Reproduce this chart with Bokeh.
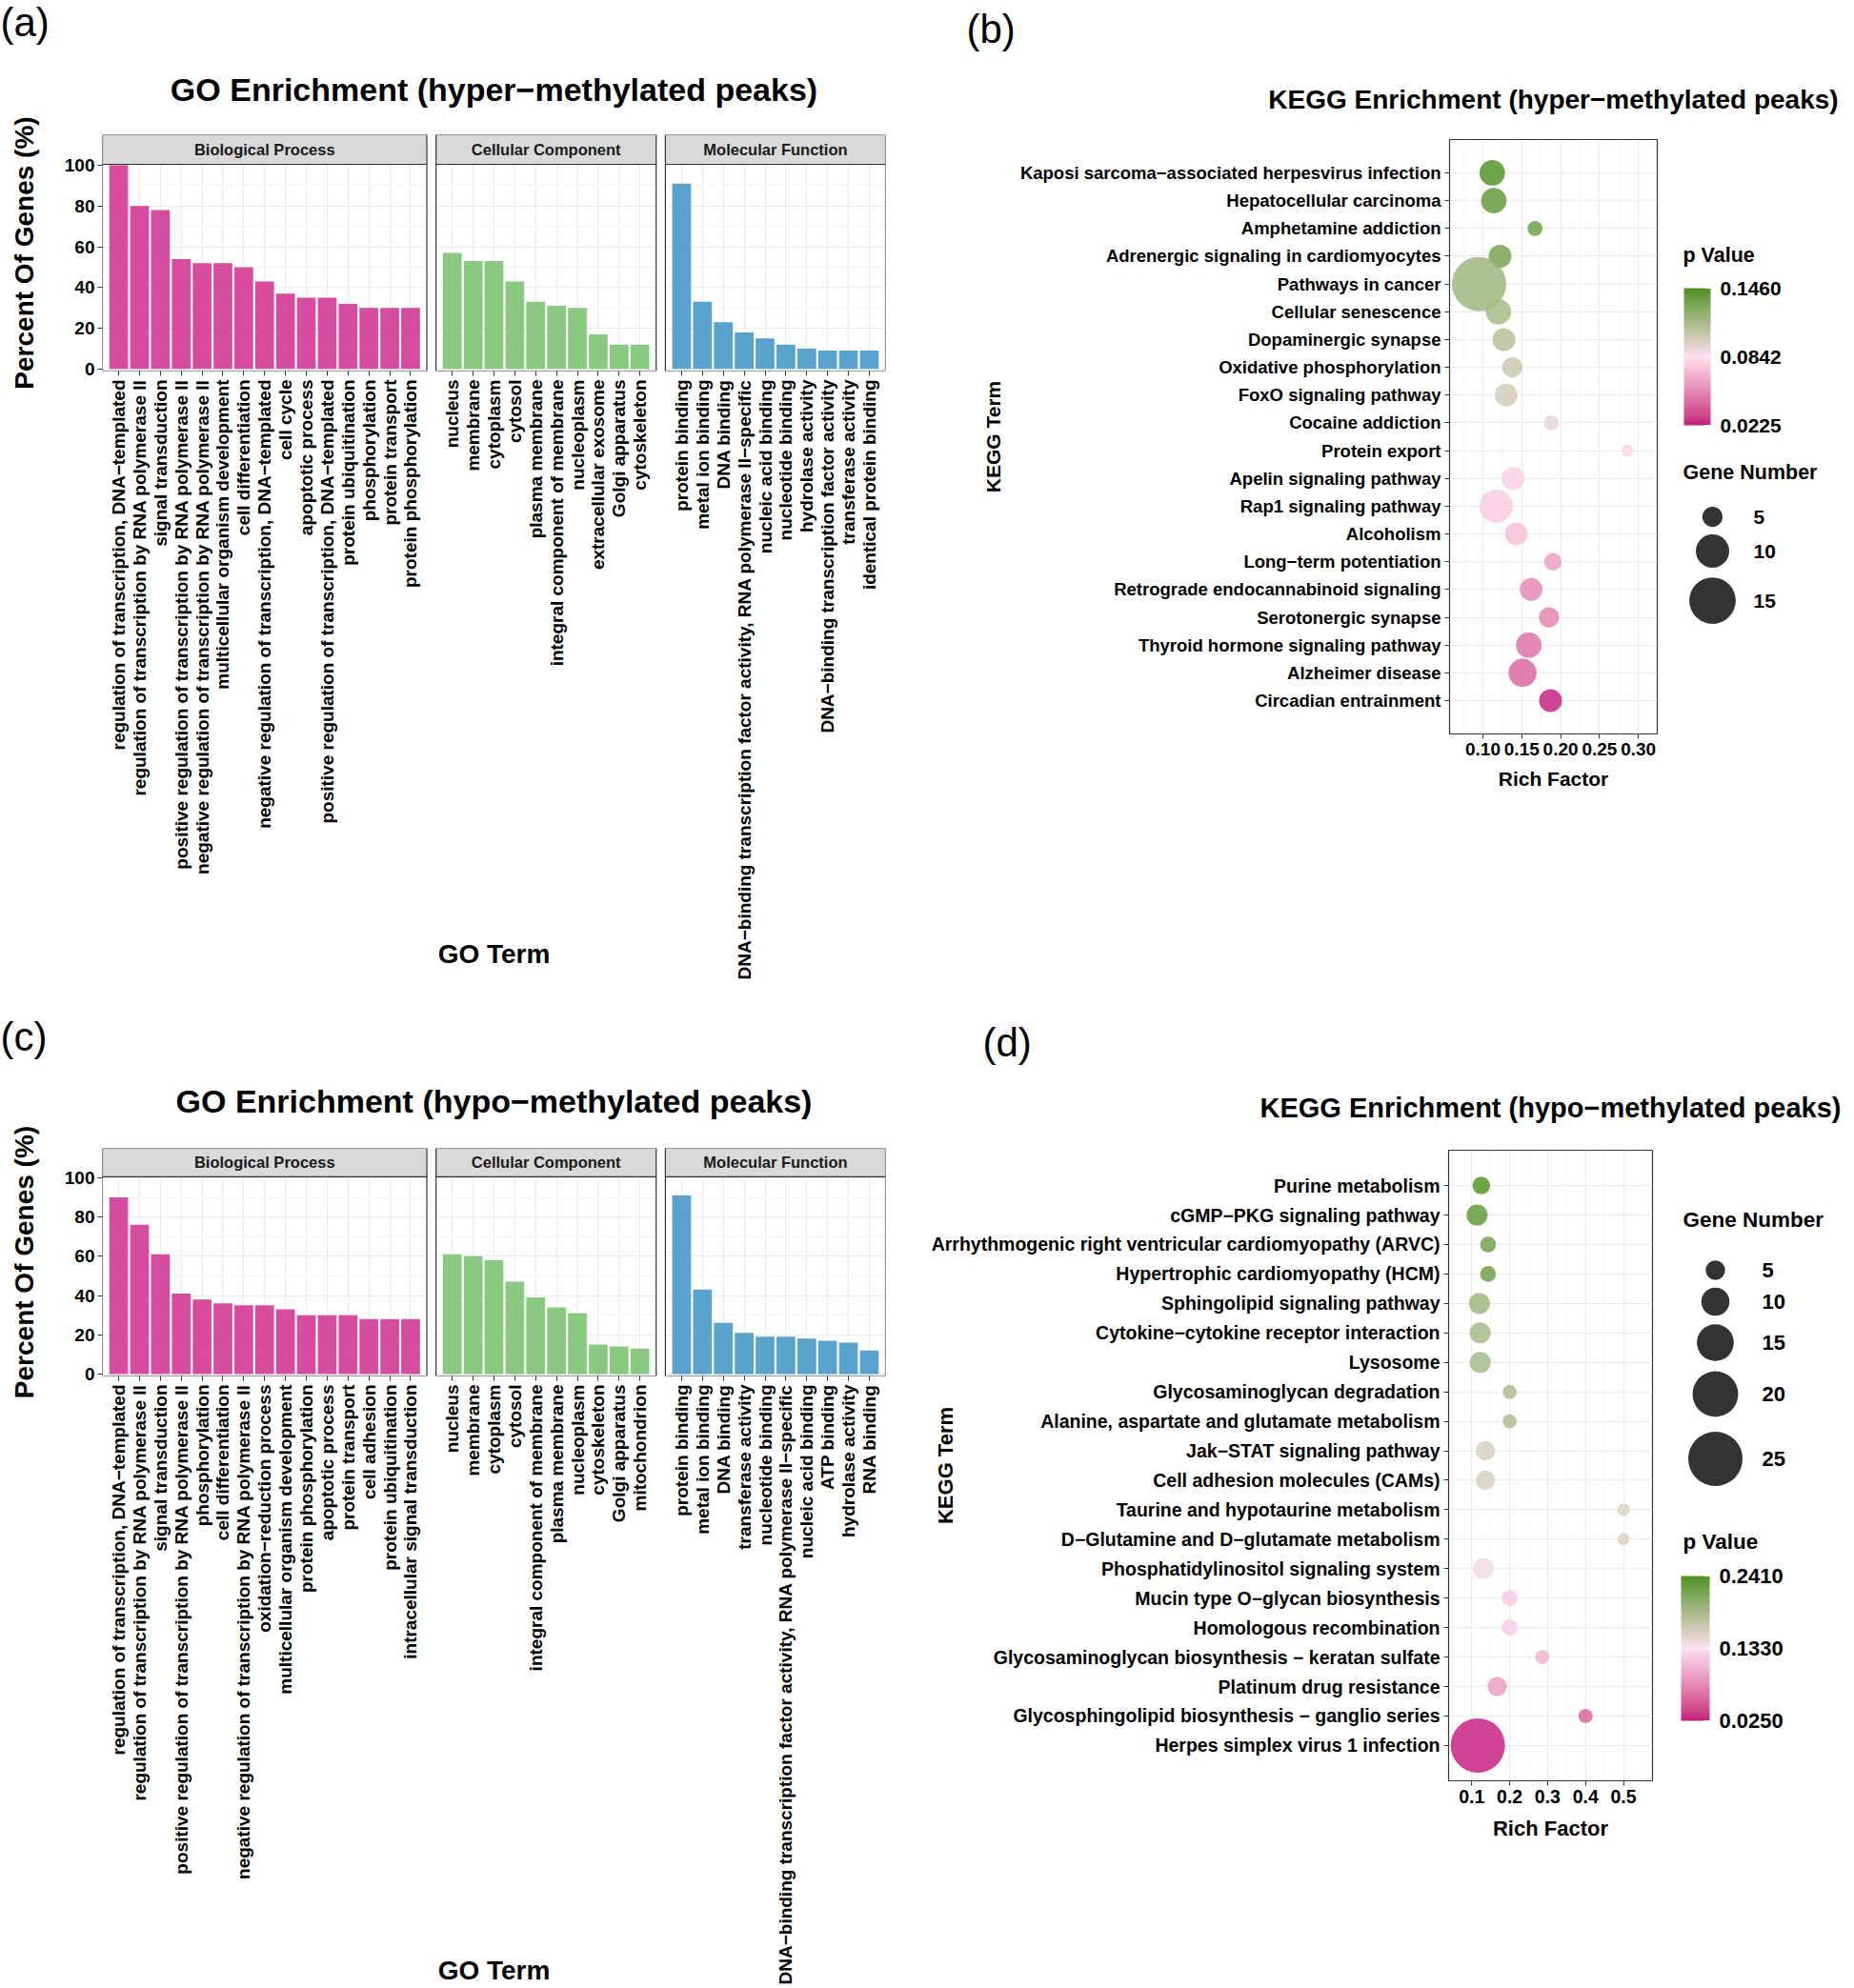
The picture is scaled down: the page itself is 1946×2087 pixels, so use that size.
import math
from bokeh.plotting import figure
from bokeh.models import (Range1d, FixedTicker, BoxAnnotation, Label, Title, ColorBar,
                          LinearColorMapper, PrintfTickFormatter, ColumnDataSource)
from bokeh.layouts import row, column
from bokeh.core.properties import value
from bokeh.embed import file_html
from bokeh.resources import INLINE

FONT = "Liberation Sans"

# ---------------- GO enrichment, hyper-methylated peaks ----------------
hyper_bp_terms = [
    "regulation of transcription, DNA−templated",
    "regulation of transcription by RNA polymerase II",
    "signal transduction",
    "positive regulation of transcription by RNA polymerase II",
    "negative regulation of transcription by RNA polymerase II",
    "multicellular organism development",
    "cell differentiation",
    "negative regulation of transcription, DNA−templated",
    "cell cycle",
    "apoptotic process",
    "positive regulation of transcription, DNA−templated",
    "protein ubiquitination",
    "phosphorylation",
    "protein transport",
    "protein phosphorylation",
]
hyper_bp_pct = [100, 80, 78, 54, 52, 52, 50, 43, 37, 35, 35, 32, 30, 30, 30]
hyper_cc_terms = [
    "nucleus", "membrane", "cytoplasm", "cytosol", "plasma membrane",
    "integral component of membrane", "nucleoplasm", "extracellular exosome",
    "Golgi apparatus", "cytoskeleton",
]
hyper_cc_pct = [57, 53, 53, 43, 33, 31, 30, 17, 12, 12]
hyper_mf_terms = [
    "protein binding", "metal ion binding", "DNA binding",
    "DNA−binding transcription factor activity, RNA polymerase II−specific",
    "nucleic acid binding", "nucleotide binding", "hydrolase activity",
    "DNA−binding transcription factor activity", "transferase activity",
    "identical protein binding",
]
hyper_mf_pct = [91, 33, 23, 18, 15, 12, 10, 9, 9, 9]

# ---------------- GO enrichment, hypo-methylated peaks ----------------
hypo_bp_terms = [
    "regulation of transcription, DNA−templated",
    "regulation of transcription by RNA polymerase II",
    "signal transduction",
    "positive regulation of transcription by RNA polymerase II",
    "phosphorylation",
    "cell differentiation",
    "negative regulation of transcription by RNA polymerase II",
    "oxidation−reduction process",
    "multicellular organism development",
    "protein phosphorylation",
    "apoptotic process",
    "protein transport",
    "cell adhesion",
    "protein ubiquitination",
    "intracellular signal transduction",
]
hypo_bp_pct = [90, 76, 61, 41, 38, 36, 35, 35, 33, 30, 30, 30, 28, 28, 28]
hypo_cc_terms = [
    "nucleus", "membrane", "cytoplasm", "cytosol", "integral component of membrane",
    "plasma membrane", "nucleoplasm", "cytoskeleton", "Golgi apparatus", "mitochondrion",
]
hypo_cc_pct = [61, 60, 58, 47, 39, 34, 31, 15, 14, 13]
hypo_mf_terms = [
    "protein binding", "metal ion binding", "DNA binding", "transferase activity",
    "nucleotide binding",
    "DNA−binding transcription factor activity, RNA polymerase II−specific",
    "nucleic acid binding", "ATP binding", "hydrolase activity", "RNA binding",
]
hypo_mf_pct = [91, 43, 26, 21, 19, 19, 18, 17, 16, 12]

go_groups = ["Biological Process", "Cellular Component", "Molecular Function"]
go_colors = ["#D4439A", "#83C67B", "#519DCB"]

# ---------------- KEGG enrichment, hyper-methylated peaks ----------------
kegg_hyper_terms = [
    "Kaposi sarcoma−associated herpesvirus infection", "Hepatocellular carcinoma",
    "Amphetamine addiction", "Adrenergic signaling in cardiomyocytes", "Pathways in cancer",
    "Cellular senescence", "Dopaminergic synapse", "Oxidative phosphorylation",
    "FoxO signaling pathway", "Cocaine addiction", "Protein export",
    "Apelin signaling pathway", "Rap1 signaling pathway", "Alcoholism",
    "Long−term potentiation", "Retrograde endocannabinoid signaling",
    "Serotonergic synapse", "Thyroid hormone signaling pathway", "Alzheimer disease",
    "Circadian entrainment",
]
kegg_hyper_rich = [0.112, 0.114, 0.167, 0.122, 0.095, 0.120, 0.127, 0.138, 0.130, 0.188,
                   0.286, 0.139, 0.117, 0.143, 0.190, 0.162, 0.185, 0.159, 0.151, 0.187]
kegg_hyper_genes = [7, 7, 3, 6, 18, 7, 6, 5, 6, 3, 2, 6, 10, 6, 4, 6, 5, 7, 8, 6]
kegg_hyper_p = [0.146, 0.141, 0.136, 0.134, 0.119, 0.116, 0.111, 0.104, 0.101, 0.094,
                0.080, 0.078, 0.077, 0.072, 0.060, 0.052, 0.050, 0.044, 0.040, 0.0225]
kegg_hyper_p_ticks = [0.0225, 0.0842, 0.1460]
kegg_hyper_size_legend = [5, 10, 15]

# ---------------- KEGG enrichment, hypo-methylated peaks ----------------
kegg_hypo_terms = [
    "Purine metabolism", "cGMP−PKG signaling pathway",
    "Arrhythmogenic right ventricular cardiomyopathy (ARVC)",
    "Hypertrophic cardiomyopathy (HCM)", "Sphingolipid signaling pathway",
    "Cytokine−cytokine receptor interaction", "Lysosome", "Glycosaminoglycan degradation",
    "Alanine, aspartate and glutamate metabolism", "Jak−STAT signaling pathway",
    "Cell adhesion molecules (CAMs)", "Taurine and hypotaurine metabolism",
    "D−Glutamine and D−glutamate metabolism", "Phosphatidylinositol signaling system",
    "Mucin type O−glycan biosynthesis", "Homologous recombination",
    "Glycosaminoglycan biosynthesis − keratan sulfate", "Platinum drug resistance",
    "Glycosphingolipid biosynthesis − ganglio series", "Herpes simplex virus 1 infection",
]
kegg_hypo_rich = [0.125, 0.114, 0.143, 0.143, 0.120, 0.122, 0.122, 0.200, 0.200, 0.136,
                  0.136, 0.500, 0.500, 0.131, 0.200, 0.200, 0.286, 0.167, 0.400, 0.116]
kegg_hypo_genes = [4, 6, 3, 3, 6, 6, 6, 2, 2, 5, 5, 1, 1, 6, 3, 3, 2, 5, 2, 25]
kegg_hypo_p = [0.241, 0.232, 0.224, 0.224, 0.193, 0.191, 0.191, 0.185, 0.185, 0.159,
               0.159, 0.155, 0.155, 0.140, 0.118, 0.118, 0.103, 0.090, 0.055, 0.025]
kegg_hypo_p_ticks = [0.0250, 0.1330, 0.2410]
kegg_hypo_size_legend = [5, 10, 15, 20, 25]

GRADIENT_STOPS = ["#C51B7D", "#FDE0EF", "#4D9221"]


# ---------------- colour helpers (Lab interpolation like ggplot) ----------------
def _lin(c):
    c = c / 255.0
    return c / 12.92 if c <= 0.04045 else ((c + 0.055) / 1.055) ** 2.4


def _delin(c):
    v = 12.92 * c if c <= 0.0031308 else 1.055 * (max(c, 0) ** (1 / 2.4)) - 0.055
    return int(round(max(0.0, min(1.0, v)) * 255))


WHITE = (0.95047, 1.0, 1.08883)


def _f(t):
    d = 6 / 29
    return t ** (1 / 3) if t > d ** 3 else t / (3 * d * d) + 4 / 29


def _finv(t):
    d = 6 / 29
    return t ** 3 if t > d else 3 * d * d * (t - 4 / 29)


def hex_to_lab(h):
    r, g, b = (_lin(int(h[i:i + 2], 16)) for i in (1, 3, 5))
    x = 0.4124 * r + 0.3576 * g + 0.1805 * b
    y = 0.2126 * r + 0.7152 * g + 0.0722 * b
    z = 0.0193 * r + 0.1192 * g + 0.9505 * b
    fx, fy, fz = _f(x / WHITE[0]), _f(y / WHITE[1]), _f(z / WHITE[2])
    return (116 * fy - 16, 500 * (fx - fy), 200 * (fy - fz))


def lab_to_hex(L, a, b):
    fy = (L + 16) / 116
    fx = fy + a / 500
    fz = fy - b / 200
    x, y, z = WHITE[0] * _finv(fx), WHITE[1] * _finv(fy), WHITE[2] * _finv(fz)
    r = 3.2406 * x - 1.5372 * y - 0.4986 * z
    g = -0.9689 * x + 1.8758 * y + 0.0415 * z
    bb = 0.0557 * x - 0.2040 * y + 1.0570 * z
    return "#%02X%02X%02X" % (_delin(r), _delin(g), _delin(bb))


def make_palette(stops, n=256):
    labs = [hex_to_lab(s) for s in stops]
    out = []
    for i in range(n):
        t = i / (n - 1) * (len(stops) - 1)
        k = min(int(t), len(stops) - 2)
        u = t - k
        c = [labs[k][j] + (labs[k + 1][j] - labs[k][j]) * u for j in range(3)]
        out.append(lab_to_hex(*c))
    return out


PALETTE = make_palette(GRADIENT_STOPS)


def size_scale(n, nmin, nmax, dmin=13.0, dmax=57.0):
    return dmin + (dmax - dmin) * (n - nmin) / (nmax - nmin)


# ---------------- GO faceted bar panel ----------------
def go_panel(title_text, letter, groups, width, height, left, top, frame_w, frame_h,
             title_standoff, letter_standoff, xlab_standoff):
    PAD = 0.78
    STEP = 2
    facets = []
    start = 1
    for name, terms, vals, color in groups:
        xs = list(range(start, start + len(terms)))
        facets.append((name, terms, vals, color, xs))
        start = xs[-1] + STEP
    x_lo = facets[0][4][0] - PAD
    x_hi = facets[-1][4][-1] + PAD
    Y_LO, Y_TOP, Y_HI = -1.0, 100.5, 115.0

    p = figure(width=width, height=height, x_range=Range1d(x_lo, x_hi),
               y_range=Range1d(Y_LO, Y_HI), output_backend="svg", toolbar_location=None,
               min_border_left=left, min_border_top=top,
               min_border_right=width - left - frame_w,
               min_border_bottom=height - top - frame_h)
    p.outline_line_color = None
    p.background_fill_color = "white"
    p.border_fill_color = "white"

    # outer title: panel letter; inner title: chart title
    p.title.text = letter
    p.title.align = "left"
    p.title.offset = -left
    p.title.text_font = FONT
    p.title.text_font_size = "42px"
    p.title.text_font_style = "normal"
    p.title.text_color = "black"
    p.title.standoff = letter_standoff
    p.add_layout(Title(text=title_text, align="center", text_font=FONT,
                       text_font_size="34px", text_font_style="bold", text_color="black",
                       standoff=title_standoff), "above")

    ticks, overrides = [], {}
    for name, terms, vals, color, xs in facets:
        src = ColumnDataSource(dict(x=xs, top=vals))
        p.vbar(x="x", top="top", bottom=0, width=0.9, source=src,
               fill_color=color, fill_alpha=0.95, line_color=None)
        ticks += xs
        for xv, t in zip(xs, terms):
            overrides[xv] = t

    for (f1, f2) in zip(facets[:-1], facets[1:]):
        p.add_layout(BoxAnnotation(left=f1[4][-1] + PAD, right=f2[4][0] - PAD,
                                   fill_color="white", fill_alpha=1.0, line_alpha=0))
    for name, terms, vals, color, xs in facets:
        l, r = xs[0] - PAD, xs[-1] + PAD
        p.add_layout(BoxAnnotation(left=l, right=r, bottom=Y_LO, top=Y_TOP,
                                   fill_alpha=0, line_color="#333333", line_alpha=1.0,
                                   line_width=1.2))
        p.add_layout(BoxAnnotation(left=l, right=r, bottom=Y_TOP, top=Y_HI,
                                   fill_color="#D9D9D9", fill_alpha=1.0,
                                   line_color="#333333", line_alpha=1.0, line_width=1.2))
        p.add_layout(Label(x=(l + r) / 2, y=(Y_TOP + Y_HI) / 2, text=name,
                           text_align="center", text_baseline="middle", text_font=FONT,
                           text_font_size="16.5px", text_font_style="bold",
                           text_color="#1A1A1A"))

    xt = FixedTicker(ticks=ticks)
    p.xaxis.ticker = xt
    p.xgrid.ticker = xt
    p.xaxis.major_label_overrides = overrides
    p.xaxis.major_label_orientation = math.pi / 2
    p.xaxis.major_label_text_font = FONT
    p.xaxis.major_label_text_font_size = "19px"
    p.xaxis.major_label_text_font_style = "bold"
    p.xaxis.major_label_text_color = "black"
    p.xaxis.major_label_standoff = 4
    p.xaxis.major_tick_out = 5
    p.xaxis.major_tick_in = 0
    p.xaxis.major_tick_line_color = "#333333"
    p.xaxis.minor_tick_line_color = None
    p.xaxis.axis_line_color = None
    p.xaxis.axis_label = "GO Term"
    p.xaxis.axis_label_text_font = FONT
    p.xaxis.axis_label_text_font_size = "28px"
    p.xaxis.axis_label_text_font_style = "bold"
    p.xaxis.axis_label_text_color = "black"
    p.xaxis.axis_label_standoff = xlab_standoff

    yt = FixedTicker(ticks=[0, 20, 40, 60, 80, 100], minor_ticks=[10, 30, 50, 70, 90])
    p.yaxis.ticker = yt
    p.ygrid.ticker = yt
    p.yaxis.major_label_text_font = FONT
    p.yaxis.major_label_text_font_size = "19px"
    p.yaxis.major_label_text_font_style = "bold"
    p.yaxis.major_label_text_color = "black"
    p.yaxis.major_label_standoff = 3
    p.yaxis.major_tick_out = 5
    p.yaxis.major_tick_in = 0
    p.yaxis.major_tick_line_color = "#333333"
    p.yaxis.minor_tick_line_color = None
    p.yaxis.axis_line_color = None
    p.yaxis.axis_label = "Percent Of Genes (%)"
    p.yaxis.axis_label_text_font = FONT
    p.yaxis.axis_label_text_font_size = "28px"
    p.yaxis.axis_label_text_font_style = "bold"
    p.yaxis.axis_label_text_color = "black"
    p.yaxis.axis_label_standoff = 24

    p.xgrid.grid_line_color = "#EBEBEB"
    p.xgrid.grid_line_width = 1.2
    p.ygrid.grid_line_color = "#EBEBEB"
    p.ygrid.grid_line_width = 1.2
    p.ygrid.minor_grid_line_color = "#F4F4F4"
    return p


# ---------------- KEGG bubble panel ----------------
def kegg_panel(terms, rich, genes, pvals, mapper, x_lo, x_hi, xticks, xminor, xfmt,
               width, height, left, top, frame_w, frame_h, fs_tick, fs_xtick, fs_axis,
               ylab_standoff, xlab_standoff):
    n = len(terms)
    ys = list(range(n, 0, -1))
    p = figure(width=width, height=height, x_range=Range1d(x_lo, x_hi),
               y_range=Range1d(1 - 1.2, n + 1.2), output_backend="svg",
               toolbar_location=None, min_border_left=left, min_border_top=top,
               min_border_right=width - left - frame_w,
               min_border_bottom=height - top - frame_h)
    p.outline_line_color = "#333333"
    p.outline_line_width = 1.2
    p.background_fill_color = "white"
    p.border_fill_color = "white"
    gmin, gmax = min(genes), max(genes)
    sizes = [size_scale(g, gmin, gmax) for g in genes]
    src = ColumnDataSource(dict(x=rich, y=ys, size=sizes, p=pvals))
    p.scatter("x", "y", size="size", source=src,
              fill_color={"field": "p", "transform": mapper},
              fill_alpha=0.82, line_color=None)

    yt = FixedTicker(ticks=ys)
    p.yaxis.ticker = yt
    p.ygrid.ticker = yt
    p.yaxis.major_label_overrides = {y: t for y, t in zip(ys, terms)}
    xt = FixedTicker(ticks=xticks, minor_ticks=xminor)
    p.xaxis.ticker = xt
    p.xgrid.ticker = xt
    p.xaxis.formatter = PrintfTickFormatter(format=xfmt)
    for ax, fs in ((p.xaxis, fs_xtick), (p.yaxis, fs_tick)):
        ax.major_label_text_font = FONT
        ax.major_label_text_font_size = fs
        ax.major_label_text_font_style = "bold"
        ax.major_label_text_color = "black"
        ax.major_label_standoff = 4
        ax.major_tick_out = 5
        ax.major_tick_in = 0
        ax.major_tick_line_color = "#333333"
        ax.minor_tick_line_color = None
        ax.axis_line_color = None
        ax.axis_label_text_font = FONT
        ax.axis_label_text_font_size = fs_axis
        ax.axis_label_text_font_style = "bold"
        ax.axis_label_text_color = "black"
    p.yaxis.axis_label = "KEGG Term"
    p.yaxis.axis_label_standoff = ylab_standoff
    p.xaxis.axis_label = "Rich Factor"
    p.xaxis.axis_label_standoff = xlab_standoff
    p.xgrid.grid_line_color = "#EBEBEB"
    p.xgrid.grid_line_width = 1.2
    p.xgrid.minor_grid_line_color = "#F4F4F4"
    p.ygrid.grid_line_color = "#EBEBEB"
    p.ygrid.grid_line_width = 1.2
    return p


def blank_fig(W, H, top=0, bottom=0):
    # y data values = pixels above the canvas bottom (frame may be inset top/bottom)
    p = figure(width=W, height=H, x_range=Range1d(0, W), y_range=Range1d(bottom, H - top),
               x_axis_location=None, y_axis_location=None, output_backend="svg",
               toolbar_location=None, min_border_left=0, min_border_right=0,
               min_border_top=top, min_border_bottom=bottom)
    p.outline_line_color = None
    p.background_fill_color = "white"
    p.border_fill_color = "white"
    p.grid.visible = False
    return p


def header_fig(W, H, letter, letter_xy, title, title_xy, title_fs):
    p = blank_fig(W, H)
    p.text(x=[letter_xy[0]], y=[letter_xy[1]], text=[letter], text_font=value(FONT),
           text_font_size=value("42px"), text_font_style=value("normal"),
           text_align=value("left"), text_baseline=value("middle"), text_color="black")
    p.text(x=[title_xy[0]], y=[title_xy[1]], text=[title], text_font=value(FONT),
           text_font_size=value(title_fs), text_font_style=value("bold"),
           text_align=value("center"), text_baseline=value("middle"), text_color="black")
    return p


def legend_fig(W, H, top, bottom, mapper, p_ticks, ptitle_xy, cb_xy, cb_w, cb_h,
               stitle_xy, size_vals, genes, circ_x, circ_ys, lab_x, fs_title, fs_lab):
    p = blank_fig(W, H, top, bottom)
    p.text(x=[ptitle_xy[0], stitle_xy[0]], y=[ptitle_xy[1], stitle_xy[1]],
           text=["p Value", "Gene Number"], text_font=value(FONT),
           text_font_size=value(fs_title), text_font_style=value("bold"),
           text_align=value("left"), text_baseline=value("middle"), text_color="black")
    gmin, gmax = min(genes), max(genes)
    p.scatter(x=[circ_x] * len(size_vals), y=circ_ys,
              size=[size_scale(v, gmin, gmax) for v in size_vals],
              fill_color="#333333", line_color=None)
    p.text(x=[lab_x] * len(size_vals), y=circ_ys, text=[str(v) for v in size_vals],
           text_font=value(FONT), text_font_size=value(fs_lab),
           text_font_style=value("bold"), text_align=value("left"),
           text_baseline=value("middle"), text_color="black")
    cb = ColorBar(color_mapper=mapper, ticker=FixedTicker(ticks=p_ticks),
                  formatter=PrintfTickFormatter(format="%.4f"),
                  location=(cb_xy[0], cb_xy[1] - bottom),
                  width=cb_w, height=cb_h, padding=0, margin=0, label_standoff=10,
                  major_label_text_font=FONT, major_label_text_font_size=fs_lab,
                  major_label_text_font_style="bold", major_label_text_color="black",
                  major_tick_line_color="white", major_tick_in=6, major_tick_out=0,
                  minor_tick_line_color=None, bar_line_color=None,
                  border_line_color=None, background_fill_alpha=0)
    p.add_layout(cb)
    return p


# ---------------- build panels ----------------
figA = go_panel("GO Enrichment (hyper−methylated peaks)", "(a)",
                [(go_groups[0], hyper_bp_terms, hyper_bp_pct, go_colors[0]),
                 (go_groups[1], hyper_cc_terms, hyper_cc_pct, go_colors[1]),
                 (go_groups[2], hyper_mf_terms, hyper_mf_pct, go_colors[2])],
                width=960, height=1060, left=107, top=141, frame_w=822, frame_h=248,
                title_standoff=58, letter_standoff=-7, xlab_standoff=-45)

figC = go_panel("GO Enrichment (hypo−methylated peaks)", "(c)",
                [(go_groups[0], hypo_bp_terms, hypo_bp_pct, go_colors[0]),
                 (go_groups[1], hypo_cc_terms, hypo_cc_pct, go_colors[1]),
                 (go_groups[2], hypo_mf_terms, hypo_mf_pct, go_colors[2])],
                width=960, height=1027, left=107, top=145, frame_w=822, frame_h=248,
                title_standoff=62, letter_standoff=-17, xlab_standoff=-33)

mapB = LinearColorMapper(palette=PALETTE, low=min(kegg_hyper_p), high=max(kegg_hyper_p))
mapD = LinearColorMapper(palette=PALETTE, low=min(kegg_hypo_p), high=max(kegg_hypo_p))

hdrB = header_fig(986, 128, "(b)", (54, 98), "KEGG Enrichment (hyper−methylated peaks)",
                  (670, 24), "28px")
figB = kegg_panel(kegg_hyper_terms, kegg_hyper_rich, kegg_hyper_genes, kegg_hyper_p, mapB,
                  0.0571, 0.3243, [0.10, 0.15, 0.20, 0.25, 0.30],
                  [0.075, 0.125, 0.175, 0.225, 0.275], "%.2f",
                  width=788, height=732, left=561, top=18, frame_w=218, frame_h=624,
                  fs_tick="18.5px", fs_xtick="19px", fs_axis="21px",
                  ylab_standoff=14, xlab_standoff=10)
legB = legend_fig(198, 732, 18, 90, mapB, kegg_hyper_p_ticks, (18, 593), (19, 414), 28, 144,
                  (18, 365), kegg_hyper_size_legend, kegg_hyper_genes, 49,
                  [318, 282, 230], 92, "21.5px", "21px")

hdrD = header_fig(986, 330, "(d)", (71, 96), "KEGG Enrichment (hypo−methylated peaks)",
                  (667, 28), "29px")
figD = kegg_panel(kegg_hypo_terms, kegg_hypo_rich, kegg_hypo_genes, kegg_hypo_p, mapD,
                  0.0389, 0.5766, [0.1, 0.2, 0.3, 0.4, 0.5],
                  [0.05, 0.15, 0.25, 0.35, 0.45, 0.55], "%.1f",
                  width=788, height=769, left=560, top=17, frame_w=214, frame_h=662,
                  fs_tick="19.5px", fs_xtick="19.5px", fs_axis="22px",
                  ylab_standoff=-30, xlab_standoff=11)
legD = legend_fig(198, 769, 17, 90, mapD, kegg_hypo_p_ticks, (18, 341), (16, 153), 30, 152,
                  (18, 679), kegg_hypo_size_legend, kegg_hypo_genes, 52,
                  [626, 593, 550, 496, 428], 101, "22.5px", "22px")

layout = row(column(figA, figC),
             column(hdrB, row(figB, legB), hdrD, row(figD, legD)))

open("out.html", "w").write(file_html(layout, INLINE))
